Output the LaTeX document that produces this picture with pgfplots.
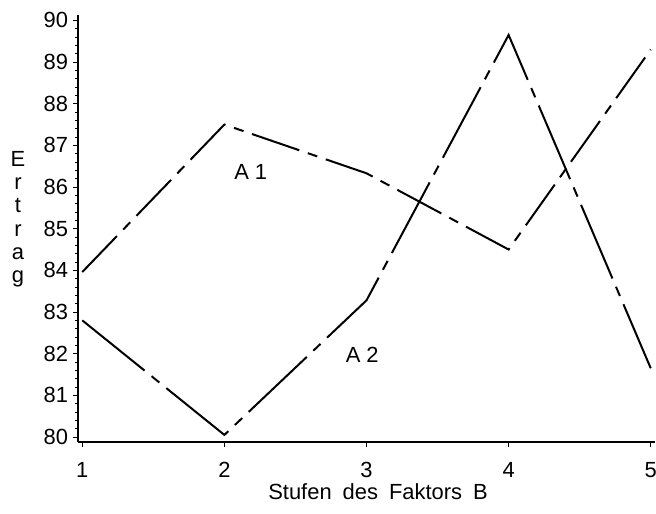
\documentclass[border=0pt]{standalone}
\usepackage{pgfplots}
\pgfplotsset{compat=1.18}
\usepackage{fontspec}
\setmainfont{Liberation Sans}
\begin{document}
\begin{tikzpicture}
\begin{axis}[
  scale only axis,
  width=288.5bp, height=213.3bp,
  xmin=0.97, xmax=5.03,
  ymin=79.88, ymax=90.12,
  axis lines=left,
  axis line style={-, line width=0.8pt},
  xtick={1,2,3,4,5},
  ytick={80,81,...,90},
  minor y tick num=4,
  tick align=outside,
  major tick length=2.5bp,
  minor tick length=1.5bp,
  tick style={black, line width=0.5pt},
  /pgf/number format/assume math mode=true,
  ticklabel style={font=\fontsize{11}{12}\selectfont},
  xticklabel style={yshift=-4bp},
  yticklabel style={xshift=1bp},
  clip=false,
]
\coordinate (ll) at (rel axis cs:0,0);
\addplot[black, line width=1pt, dash pattern=on 25bp off 4.5bp on 5bp off 4.5bp]
  coordinates {(1,83.96) (2,87.5) (3,86.33) (4,84.5) (5,89.3)};
\addplot[black, line width=1pt, dash pattern=on 40bp off 4.5bp on 5bp off 4.5bp]
  coordinates {(1,82.8) (2,80.05) (3,83.28) (4,89.65) (5,81.65)};
\node[font=\fontsize{11}{12}\selectfont] at (axis cs:2.185,86.36) {A\hspace{3bp}1};
\node[font=\fontsize{11}{12}\selectfont] at (axis cs:2.97,81.97) {A\hspace{3bp}2};
\node[font=\fontsize{11}{11.7}\selectfont, align=center, inner sep=0pt] at (rel axis cs:0,0.522) [xshift=-30bp] {E\\r\\t\\r\\a\\g};
\node[font=\fontsize{11}{12}\selectfont] at (rel axis cs:0.52,0) [yshift=-25bp] {Stufen\hspace{5.5bp}des\hspace{5.5bp}Faktors\hspace{5.5bp}B};
\end{axis}
\pgfresetboundingbox
\path[use as bounding box] (ll) ++(-39bp,-36bp) rectangle ++(328bp,257bp);
\end{tikzpicture}
\end{document}
